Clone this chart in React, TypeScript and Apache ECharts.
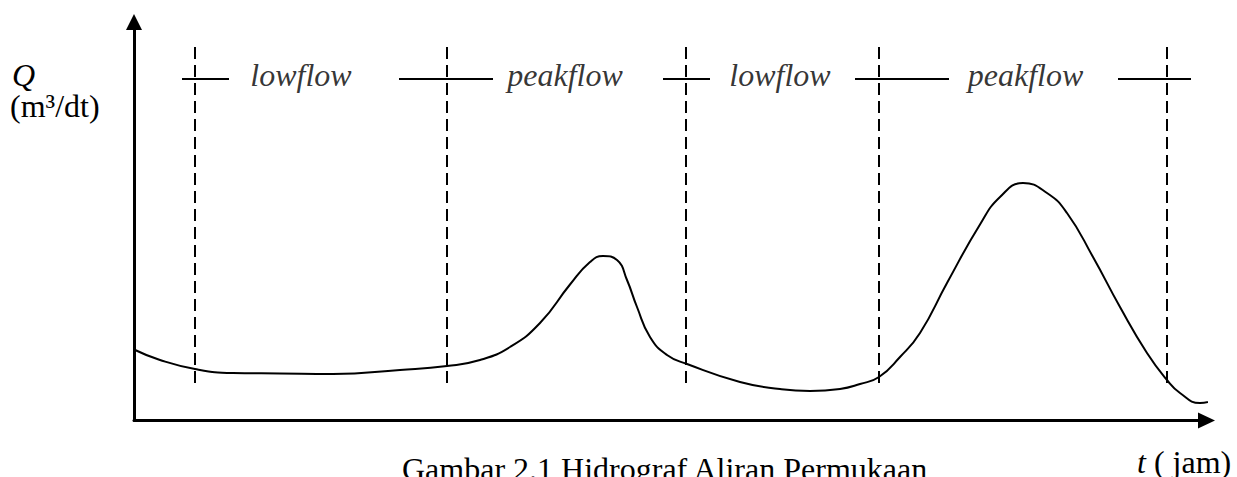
import React, { useEffect, useRef } from "react";
import * as echarts from "echarts";

// Hydrograph curve: time (arbitrary units) and discharge Q (arbitrary units)
const curveT = [0, 2.6, 6.1, 9.9, 14.6, 19.9, 26.6, 31.3, 34.6, 37.6, 40.6, 43.6, 45.6, 46.9, 48.3, 49.3, 50.3, 51.6, 53.3, 55.3, 60.6, 64.6, 67.6, 70.6, 72.6, 74.5, 76.6, 78.6, 81.3, 84.6, 86.6, 88.9, 91.3, 93.3, 95.9, 98.6, 101.3, 103.3, 104.6, 106.6, 108.6];
const curveQ = [7.1, 6.05, 5.15, 4.75, 4.7, 4.65, 5.05, 5.45, 6.05, 7.35, 9.75, 13.6, 15.85, 16.45, 16.05, 14.05, 11.35, 8.35, 6.55, 5.65, 3.85, 3.15, 2.95, 3.15, 3.65, 4.35, 6.35, 8.75, 13.75, 19.6, 22.35, 23.75, 22.75, 20.75, 16.35, 11.35, 6.75, 4.05, 2.75, 1.75, 2.35];

// Phase boundaries (dashed verticals)
const boundaryT = [6.1, 31.3, 55.2, 74.5, 103.3];
const boundaryQ = [3.75, 37.35];

// Phase bracket segments (start, end) at level bracketQ
const bracketStart = [4.8, 26.5, 52.9, 72.1, 98.4];
const bracketEnd = [9.5, 35.9, 57.6, 81.5, 105.7];
const bracketQ = 34.15;

// Phase labels
const phaseNames = ["lowflow", "peakflow", "lowflow", "peakflow"];
const phaseCenters = [16.7, 43.1, 64.6, 89.15];

const xMax = 107.25;
const yMax = 39.85;

const FONT = "Liberation Serif";

export default function App() {
  const ref = useRef<HTMLDivElement>(null);

  useEffect(() => {
    if (!ref.current) return;
    const chart = echarts.init(ref.current, null, { renderer: "svg" });

    const dashedSeries = boundaryT.map((t) => ({
      type: "line",
      data: [
        [t, boundaryQ[0]],
        [t, boundaryQ[1]],
      ],
      symbol: "none",
      silent: true,
      lineStyle: { color: "#000", width: 2, type: [12, 6] },
      z: 2,
    }));

    const bracketSeries = bracketStart.map((s, i) => ({
      type: "line",
      data: [
        [s, bracketQ],
        [bracketEnd[i], bracketQ],
      ],
      symbol: "none",
      silent: true,
      lineStyle: { color: "#000", width: 2 },
      z: 2,
    }));

    const option: any = {
      animation: false,
      backgroundColor: "#fff",
      grid: { left: 134, right: 30.5, top: 22, bottom: 56.5 },
      xAxis: {
        type: "value",
        min: 0,
        max: xMax,
        axisLine: {
          show: true,
          onZero: false,
          symbol: ["none", "triangle"],
          symbolSize: [16, 17],
          lineStyle: { color: "#000", width: 3 },
        },
        axisTick: { show: false },
        axisLabel: { show: false },
        splitLine: { show: false },
      },
      yAxis: {
        type: "value",
        min: 0,
        max: yMax,
        axisLine: {
          show: true,
          onZero: false,
          symbol: ["none", "triangle"],
          symbolSize: [16, 16],
          lineStyle: { color: "#000", width: 3 },
        },
        axisTick: { show: false },
        axisLabel: { show: false },
        splitLine: { show: false },
      },
      series: [
        {
          type: "line",
          data: curveT.map((t, i) => [t, curveQ[i]]),
          smooth: 0.5,
          symbol: "none",
          clip: false,
          lineStyle: { color: "#000", width: 2 },
          z: 3,
        },
        ...dashedSeries,
        ...bracketSeries,
        {
          type: "scatter",
          symbolSize: 0,
          data: phaseNames.map((n, i) => ({ name: n, value: [phaseCenters[i], bracketQ] })),
          label: {
            show: true,
            position: "inside",
            formatter: "{b}",
            offset: [0, -4],
            color: "#000",
            fontFamily: FONT,
            fontStyle: "italic",
            fontSize: 32,
          },
          silent: true,
        },
      ],
      graphic: [
        {
          type: "text",
          x: 12,
          y: 75,
          style: {
            text: "Q",
            font: `italic 32px ${FONT}`,
            lineHeight: 26,
            fill: "#000",
            verticalAlign: "middle",
            align: "left",
          },
        },
        {
          type: "text",
          x: 10,
          y: 106,
          style: {
            text: "(m³/dt)",
            font: `32px ${FONT}`,
            lineHeight: 28,
            fill: "#000",
            verticalAlign: "middle",
            align: "left",
          },
        },
        {
          type: "text",
          x: 1137,
          y: 462,
          style: {
            text: "{i|t} ( jam)",
            font: `32px ${FONT}`,
            fill: "#000",
            verticalAlign: "middle",
            align: "left",
            rich: { i: { fontStyle: "italic", fontSize: 32, fontFamily: FONT } },
          },
        },
        {
          type: "text",
          x: 402,
          y: 469,
          style: {
            text: "Gambar 2.1 Hidrograf Aliran Permukaan",
            font: `32px ${FONT}`,
            fill: "#000",
            verticalAlign: "middle",
            align: "left",
          },
        },
      ],
    };

    chart.setOption(option);
    return () => chart.dispose();
  }, []);

  return (
    <div
      ref={ref}
      style={{ position: "fixed", left: 0, top: 0, width: 1237, height: 477, background: "#fff" }}
    />
  );
}
